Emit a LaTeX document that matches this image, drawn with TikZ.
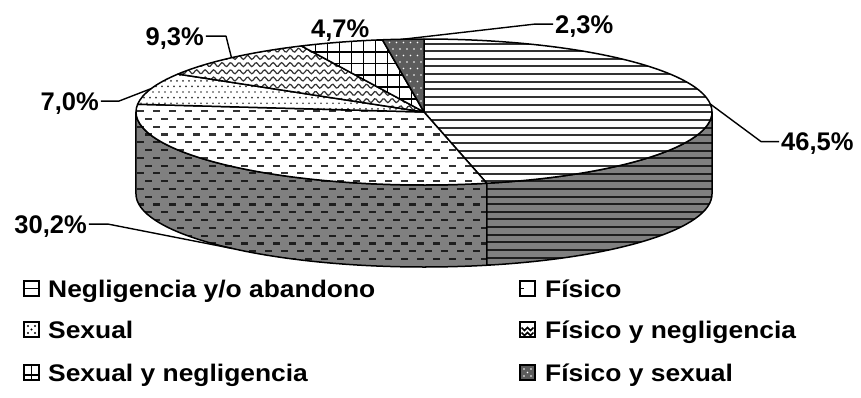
\documentclass[tikz,border=0pt]{standalone}
\usepackage{fontspec}
\setmainfont{Liberation Sans}
\usetikzlibrary{calc}
\definecolor{sidegray}{HTML}{808080}
\definecolor{patdark}{HTML}{1E1E1E}
\definecolor{patmid}{HTML}{333333}
\definecolor{densegray}{HTML}{5C5C5C}
\begin{document}
\begin{tikzpicture}[x=1pt,y=1pt,
  outl/.style={draw=black,line width=1.5pt,line join=round},
  lab/.style={inner sep=0pt,font=\fontsize{25.5}{30}\selectfont\bfseries},
  leg/.style={inner sep=0pt,font=\fontsize{24}{28}\selectfont\bfseries},
  leader/.style={draw=black,line width=1.4pt,line join=round},
  icon/.style={draw=black,line width=2pt,minimum size=15.5pt,inner sep=0pt},
  ell/.style={x radius=288pt,y radius=73pt}
]
\useasboundingbox (-424,-285) rectangle (437,112);
\fill[white] (-424,-285) rectangle (437,112);

% ---------- paths ----------
\def\pFisSide{(-288,0) arc[start angle=180,end angle=282.6,ell] -- ++(0,-82) arc[start angle=282.6,end angle=180,ell] -- cycle}
\def\pNegSide{({288*cos(282.6)},{73*sin(282.6)}) arc[start angle=282.6,end angle=360,ell] -- ++(0,-82) arc[start angle=360,end angle=282.6,ell] -- cycle}
\def\pNeg{(0,0) -- (0,73) arc[start angle=90,end angle=-77.4,ell] -- cycle}
\def\pFis{(0,0) -- ({288*cos(-77.4)},{73*sin(-77.4)}) arc[start angle=-77.4,end angle=-186.1,ell] -- cycle}
\def\pSex{(0,0) -- ({288*cos(173.9)},{73*sin(173.9)}) arc[start angle=173.9,end angle=148.7,ell] -- cycle}
\def\pFN{(0,0) -- ({288*cos(148.7)},{73*sin(148.7)}) arc[start angle=148.7,end angle=115.2,ell] -- cycle}
\def\pSN{(0,0) -- ({288*cos(115.2)},{73*sin(115.2)}) arc[start angle=115.2,end angle=98.3,ell] -- cycle}
\def\pFS{(0,0) -- ({288*cos(98.3)},{73*sin(98.3)}) arc[start angle=98.3,end angle=90,ell] -- cycle}

% ---------- sides ----------
\begin{scope}
  \clip \pFisSide;
  \fill[sidegray] (-300,20) rectangle (100,-170);
  \foreach \k in {-3,...,20}{
    \pgfmathsetmacro\xs{-366.7-8*mod(\k+30,2)}
    \draw[patdark,line width=2.2pt,dash pattern=on 7pt off 9pt] (\xs,{-14.7-7.78*\k}) -- (120,{-14.7-7.78*\k});
  }
\end{scope}
\draw[outl] \pFisSide;

\begin{scope}
  \clip \pNegSide;
  \fill[sidegray] (40,20) rectangle (300,-170);
  \foreach \k in {-2,...,32}{
    \draw[patdark,line width=2pt] (0,{68.5-7.65*\k}) -- (300,{68.5-7.65*\k});
  }
\end{scope}
\draw[outl] \pNegSide;

% ---------- top faces ----------
\begin{scope}
  \clip \pNeg;
  \fill[white] (-5,80) rectangle (300,-80);
  \foreach \k in {-1,...,20}{
    \draw[patmid,line width=2pt] (-5,{68.5-7.65*\k}) -- (300,{68.5-7.65*\k});
  }
\end{scope}
\draw[outl] \pNeg;

\begin{scope}
  \clip \pFis;
  \fill[white] (-300,20) rectangle (100,-80);
  \foreach \k in {-3,...,10}{
    \pgfmathsetmacro\xs{-366.7-8*mod(\k+30,2)}
    \draw[patmid,line width=2.2pt,dash pattern=on 7pt off 9pt] (\xs,{-14.7-7.78*\k}) -- (120,{-14.7-7.78*\k});
  }
\end{scope}
\draw[outl] \pFis;

\begin{scope}
  \clip \pSex;
  \fill[white] (-300,-20) rectangle (10,50);
  \foreach \i in {0,...,50}{
    \foreach \j in {0,...,9}{
      \fill[patmid] ({-292+6*\i+3*mod(\j,2)},{-8+5.6*\j}) circle[radius=0.95];
    }
  }
\end{scope}
\draw[outl] \pSex;

\begin{scope}
  \clip \pFN;
  \fill[white] (-260,0) rectangle (10,80);
  \foreach \j in {0,...,11}{
    \draw[patmid,line width=1.2pt] plot[domain=-262:2,samples=160,smooth] (\x,{7.2*\j-3+2*sin(\x/8.5*360)});
  }
\end{scope}
\draw[outl] \pFN;

\begin{scope}
  \clip \pSN;
  \fill[white] (-120,0) rectangle (5,80);
  \foreach \k in {0,...,8}{
    \draw[black,line width=1.7pt] ({-108.5+12*\k},0) -- ({-108.5+12*\k},80);
    \draw[black,line width=1.7pt] (-120,{72.1-11.8*\k}) -- (5,{72.1-11.8*\k});
  }
\end{scope}
\draw[outl] \pSN;

\begin{scope}
  \clip \pFS;
  \fill[densegray] (-60,0) rectangle (5,80);
  \foreach \i in {0,...,8}{
    \foreach \j in {0,...,12}{
      \fill[white] ({-45+7*\i+3.5*mod(\j,2)},{-2+6.5*\j}) circle[radius=0.9];
    }
  }
\end{scope}
\draw[outl] \pFS;

% ---------- labels and leaders ----------
\node[lab,anchor=base west] (l465) at (357,-38.5) {46,5\%};
\node[lab,anchor=base east] (l302) at (-337,-121) {30,2\%};
\node[lab,anchor=base east] (l70) at (-325,2) {7,0\%};
\node[lab,anchor=base east] (l93) at (-220,67) {9,3\%};
\node[lab,anchor=base west] (l47) at (-113,75) {4,7\%};
\node[lab,anchor=base west] (l23) at (131,79) {2,3\%};

\coordinate (e465) at ({288*cos(6.3)},{73*sin(6.3)});
\coordinate (e302) at ({288*cos(228.25)},{73*sin(228.25)-82});
\coordinate (e70) at ({288*cos(161.3)},{73*sin(161.3)});
\coordinate (e93) at ({288*cos(131.95)},{73*sin(131.95)});
\coordinate (e23) at ({288*cos(94.15)},{73*sin(94.15)});

\draw[leader] ([shift={(-2,2)}]l465.west) -- ++(-18,0) -- (e465);
\draw[leader] ([shift={(2,2)}]l302.east) -- ++(19,0) -- (e302);
\draw[leader] ([shift={(2,2)}]l70.east) -- ++(18,0) -- (e70);
\draw[leader] ([shift={(2,2)}]l93.east) -- ++(20,0) -- (e93);
\draw[leader] ([shift={(-2,2)}]l23.west) -- ++(-18,0) -- (e23);

% ---------- legend ----------
\node[icon] (i1) at (-392.5,-176.5) {};
\draw[black,line width=1.8pt] (i1.west) -- (i1.east);
\node[leg,anchor=base west] (t1) at (-376,-185) {\scalebox{1.1}[1]{Negligencia y/o abandono}};

\node[icon] (i2) at (103.5,-176.5) {};
\draw[black,line width=1.8pt] (i2.west) -- ++(5,0);
\node[leg,anchor=base west] (t2) at (121,-185) {\scalebox{1.1}[1]{Físico}};

\node[icon,path picture={
  \foreach \a/\b in {-3.5/3.5,3.5/3.5,0/0,-3.5/-3.5,3.5/-3.5}{\fill[black] ($(path picture bounding box.center)+(\a,\b)$) circle[radius=1.2];}
}] (i3) at (-392.5,-217.5) {};
\node[leg,anchor=base west] (t3) at (-376,-226) {\scalebox{1.1}[1]{Sexual}};

\node[icon,path picture={
  \draw[black,line width=1.6pt] ($(path picture bounding box.center)+(-6,2)$) -- ++(3,-3) -- ++(3,3) -- ++(3,-3) -- ++(3,3);
  \draw[black,line width=1.6pt] ($(path picture bounding box.center)+(-6,-3)$) -- ++(3,-3) -- ++(3,3) -- ++(3,-3) -- ++(3,3);
}] (i4) at (103.5,-217.5) {};
\node[leg,anchor=base west] (t4) at (121,-226) {\scalebox{1.1}[1]{Físico y negligencia}};

\node[icon] (i5) at (-392.5,-260.5) {};
\draw[black,line width=1.8pt] (i5.north) -- (i5.south);
\draw[black,line width=1.8pt] ([yshift=-2.5]i5.west) -- ([yshift=-2.5]i5.east);
\node[leg,anchor=base west] (t5) at (-376,-269) {\scalebox{1.1}[1]{Sexual y negligencia}};

\node[icon,fill=densegray,path picture={
  \foreach \a/\b in {-3.5/3.5,3.5/3.5,0/0,-3.5/-3.5,3.5/-3.5}{\fill[white] ($(path picture bounding box.center)+(\a,\b)$) circle[radius=0.9];}
}] (i6) at (103.5,-260.5) {};
\node[leg,anchor=base west] (t6) at (121,-269) {\scalebox{1.1}[1]{Físico y sexual}};
\end{tikzpicture}
\end{document}
